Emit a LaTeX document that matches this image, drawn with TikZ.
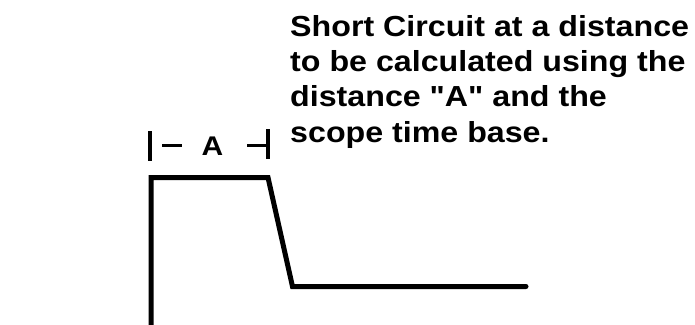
\documentclass[tikz,border=0pt]{standalone}
\usepackage{fontspec}
\setmainfont{Liberation Sans}
\newfontfamily\labfont{Liberation Sans}[FakeStretch=1.11]
\begin{document}
\begin{tikzpicture}[x=1pt,y=-1pt,
  wave/.style={line width=5pt, line cap=round, line join=miter},
  tickmark/.style={line width=3.2pt},
  note/.style={font=\labfont\bfseries\fontsize{29}{35}\selectfont, inner sep=0pt, anchor=base west},
  dimlabel/.style={font=\labfont\bfseries\fontsize{27}{32}\selectfont, inner sep=0pt, anchor=base}]
\useasboundingbox (0,0) rectangle (695,324);
% waveform
\coordinate (w0) at (151,326);
\coordinate (w1) at (151,177.5);
\coordinate (w2) at (268,177.5);
\coordinate (w3) at (292.5,286.5);
\coordinate (w4) at (526,286.5);
\draw[wave] (w0) -- (w1) -- (w2) -- (w3) -- (w4);
% dimension marker
\coordinate (lb1) at (150,131);
\coordinate (lb2) at (150,161);
\coordinate (ld1) at (162,145.5);
\coordinate (ld2) at (182,145.5);
\coordinate (rd1) at (247,145.5);
\coordinate (rd2) at (268,145.5);
\coordinate (rb1) at (268,129);
\coordinate (rb2) at (268,159);
\draw[tickmark] (lb1) -- (lb2);
\draw[tickmark] (ld1) -- (ld2);
\draw[tickmark] (rd1) -- (rd2);
\draw[tickmark] (rb1) -- (rb2);
\node[dimlabel] (A) at (212.5,155.5) {A};
% text
\node[note] (l1) at (290,36) {Short Circuit at a distance};
\node[note] (l2) at (290,71.3) {to be calculated using the};
\node[note] (l3) at (290,106.6) {distance "A" and the};
\node[note] (l4) at (290,142) {scope time base.};
\end{tikzpicture}
\end{document}
